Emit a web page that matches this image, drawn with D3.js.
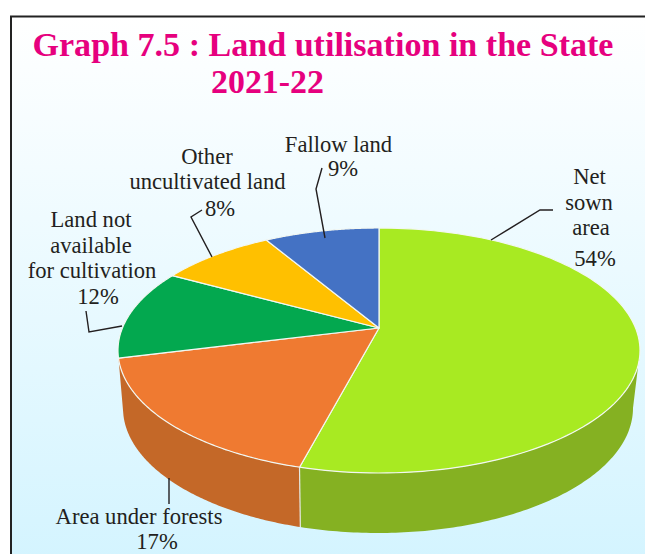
<!DOCTYPE html>
<html><head><meta charset="utf-8">
<script src="https://cdn.jsdelivr.net/npm/d3@7/dist/d3.min.js"></script>
<style>html,body{margin:0;padding:0;background:#fff}svg{display:block}</style>
</head><body><div id="c"></div>
<script>
const titleLines = ["Graph 7.5 : Land utilisation in the State", "2021-22"];
const categories = ["Net sown area", "Area under forests", "Land not available for cultivation", "Other uncultivated land", "Fallow land"];
const printedPercent = [54, 17, 12, 8, 9];
const shares = [54.1, 17, 11.9, 8.5, 8.5];
const topColours = ["#a8ea22", "#ef7a31", "#03a84f", "#ffc000", "#4472c4"];
const wallColours = ["#85b122", "#c46828"];

const W = 645, H = 554;
const svg = d3.select("#c").append("svg").attr("width", W).attr("height", H);
const defs = svg.append("defs");
const grad = defs.append("linearGradient").attr("id", "bg").attr("x1", 0).attr("y1", 0).attr("x2", 0).attr("y2", 1);
grad.append("stop").attr("offset", "0%").attr("stop-color", "#ffffff");
grad.append("stop").attr("offset", "100%").attr("stop-color", "#d3f4ff");
svg.append("rect").attr("x", 0).attr("y", 0).attr("width", W).attr("height", H).attr("fill", "#fff");
svg.append("rect").attr("x", 11).attr("y", 16.5).attr("width", W).attr("height", H)
  .attr("fill", "url(#bg)").attr("stroke", "#222").attr("stroke-width", 2);

// Perspective disc: a unit circle mapped so its centre falls above the ellipse centre
const persp = -0.1837;
function disc(cx, cy, rx, ry) {
  const k = rx * Math.sqrt(1 - persp * persp), a = ry * (1 - persp) * (1 + persp);
  const apex = cy + persp * ry;
  return t => {
    const u = Math.sin(t), v = -Math.cos(t), d = 1 + persp * v;
    return [cx + k * u / d, apex + a * v / d];
  };
}
const topDisc = disc(379, 350.5, 261, 122.5);
const lowDisc = disc(378, 408, 255, 125);
const apexPt = [379, 350.5 + persp * 122.5];

const arcs = d3.pie().sort(null).value(d => d)(shares);
const line = d3.line();
const sample = (f, a, b) => d3.range(0, 121).map(i => f(a + (b - a) * i / 120));

// Side wall only for the two slices whose rim faces the viewer
const wallStart = Math.PI - Math.acos(0.1836);
wallColours.forEach((c, i) => {
  const a = Math.max(arcs[i].startAngle, wallStart), b = arcs[i].endAngle;
  const pts = sample(topDisc, a, b).concat(sample(lowDisc, a, b).reverse());
  svg.append("path").attr("d", line(pts) + "Z").attr("fill", c);
});
// Divider on the wall
const divAngle = arcs[0].endAngle;
svg.append("path").attr("d", line([topDisc(divAngle), lowDisc(divAngle)]))
  .attr("stroke", "#e4e9e4").attr("stroke-width", 1.2).attr("fill", "none");

arcs.forEach((s, i) => {
  const pts = [apexPt].concat(sample(topDisc, s.startAngle, s.endAngle));
  svg.append("path").attr("d", line(pts) + "Z").attr("fill", topColours[i])
    .attr("stroke", "#f2f7f2").attr("stroke-width", 1.2).attr("stroke-linejoin", "round");
});

// Title
svg.selectAll("text.title").data(titleLines).join("text").attr("class", "title")
  .attr("x", (d, i) => i ? 267.5 : 323).attr("y", (d, i) => i ? 93 : 56)
  .attr("text-anchor", "middle").attr("font-family", "Liberation Serif").attr("font-weight", "bold")
  .attr("font-size", 34.5).attr("fill", "#e6007e")
  .attr("textLength", (d, i) => i ? 113 : 581).attr("lengthAdjust", "spacingAndGlyphs").text(d => d);

// Labels
const labelRows = [
  {x: 338.5, y: 152, t: "Fallow land"}, {x: 343, y: 176, t: printedPercent[4] + "%"},
  {x: 207, y: 164, t: "Other"}, {x: 207.5, y: 189, t: "uncultivated land"}, {x: 220, y: 216, t: printedPercent[3] + "%"},
  {x: 91, y: 227, t: "Land not"}, {x: 91, y: 253, t: "available"}, {x: 92, y: 278, t: "for cultivation"}, {x: 98, y: 304, t: printedPercent[2] + "%"},
  {x: 589.5, y: 184, t: "Net"}, {x: 589, y: 210, t: "sown"}, {x: 591, y: 235, t: "area"}, {x: 595, y: 266, t: printedPercent[0] + "%"},
  {x: 139, y: 524, t: "Area under forests"}, {x: 157, y: 549, t: printedPercent[1] + "%"}
];
svg.selectAll("text.lab").data(labelRows).join("text").attr("class", "lab")
  .attr("x", d => d.x).attr("y", d => d.y).attr("text-anchor", "middle")
  .attr("font-family", "Liberation Serif").attr("font-size", 22.6).attr("fill", "#231f20").text(d => d.t);

// Leaders
const leaders = [
  [[322, 168], [316, 189], [325, 238]],
  [[202, 210], [191, 217], [212, 257]],
  [[86, 311], [89, 332], [122, 326]],
  [[169, 478], [169, 504]],
  [[553, 210], [540, 210], [491, 240]]
];
svg.selectAll("path.lead").data(leaders).join("path").attr("class", "lead")
  .attr("d", d => line(d)).attr("fill", "none").attr("stroke", "#231f20").attr("stroke-width", 1.4);
</script></body></html>
